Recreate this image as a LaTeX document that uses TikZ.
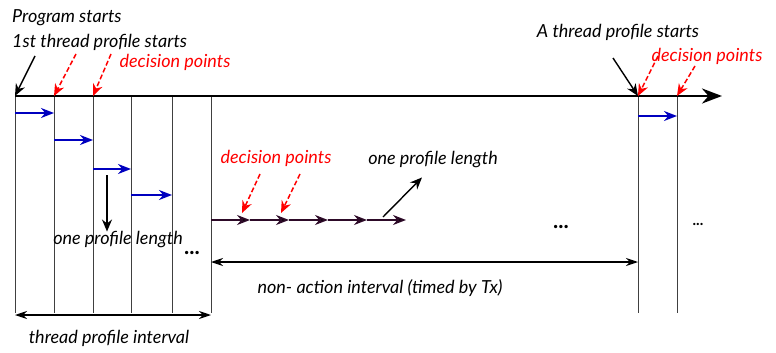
\documentclass[tikz,border=0pt]{standalone}
\usepackage{fontspec}
\setmainfont{Lato}
\usetikzlibrary{arrows.meta,positioning,calc}
\definecolor{darkplum}{RGB}{45,10,40}

\begin{document}
\begin{tikzpicture}[x=1pt, y=-1pt,
  lbl/.style={font=\itshape\fontsize{18}{20}\selectfont, inner sep=0pt},
  redlbl/.style={lbl, text=red},
  tick/.style={draw=black!75, line width=0.9pt},
  profarrow/.style={-{Stealth[length=13pt,width=10pt]}, blue!75!black, line width=1.8pt},
  decarrow/.style={-{Stealth[length=12pt,width=10pt]}, red, dash pattern=on 5pt off 2.5pt, line width=1.5pt},
  ptr/.style={-{Stealth[length=12pt,width=10pt]}, line width=1.4pt},
  span/.style={{Stealth[length=12pt,width=8pt]}-{Stealth[length=12pt,width=8pt]}, line width=1.2pt},
  >=Stealth
]
\useasboundingbox (0,0) rectangle (776,353);

% time axis and slot borders
\foreach \n/\x in {0/15, 1/54, 2/93, 3/131, 4/172, 5/211, 6/638, 7/677} {
  \coordinate (T\n) at (\x,96);
  \coordinate (B\n) at (\x,313);
  \draw[tick] (T\n) -- (B\n);
}
\coordinate (axisend) at (722,96);
\draw[line width=2.8pt, -{Stealth[length=20pt,width=15pt]}] (T0) -- (axisend);

% profiles of the threads
\foreach \a/\b/\y in {0/1/113, 1/2/140, 2/3/169, 3/4/195, 6/7/116} {
  \draw[profarrow] ($(T\a)+(0,\y-96)$) -- ($(T\b)+(0,\y-96)$);
}

% decision points on one thread
\foreach \n/\x in {0/211, 1/250, 2/289, 3/328, 4/367, 5/406} {
  \coordinate (D\n) at (\x,220);
}
\foreach \a/\b in {0/1, 1/2, 2/3, 3/4, 4/5} {
  \draw[darkplum, line width=1.6pt, -{Stealth[length=13pt,width=10pt,fill=black]}] (D\a) -- (D\b);
}

% top labels
\node[lbl, anchor=west] (prog) at (12,18) {Program starts};
\node[lbl, anchor=west] (first) at (12,42) {1st thread profile starts};
\node[redlbl] (dec1) at (175,62) {decision points};
\node[lbl] (athread) at (618,32) {A thread profile starts};
\node[redlbl] (dec2) at (707,56) {decision points};

\coordinate (p1) at (35,56);
\draw[ptr] (p1) -- (T0);
\coordinate (r1) at (76,54);
\coordinate (r2) at (111,54);
\draw[decarrow] (r1) -- (T1);
\draw[decarrow] (r2) -- (T2);

\coordinate (p2) at (613,58);
\draw[ptr] (p2) -- (T6);
\coordinate (r3) at (658,56);
\coordinate (r4) at (695,66);
\draw[decarrow] (r3) -- (T6);
\draw[decarrow] (r4) -- (T7);

% middle labels
\node[redlbl] (dec3) at (276,158) {decision points};
\coordinate (r5) at (260,174);
\coordinate (r6) at (300,174);
\draw[decarrow] (r5) -- ($(D1)+(-8,-7)$);
\draw[decarrow] (r6) -- ($(D2)+(-8,-7)$);

\node[lbl] (len1) at (433,160) {one profile length};
\coordinate (l1) at (383,217);
\draw[ptr] (l1) -- ([xshift=-11pt,yshift=-9pt]len1.south);

\node[lbl] (len2) at (118,240) {one profile length};
\coordinate (l2) at (107,175);
\draw[ptr] (l2) -- (len2.north -| l2);

% gaps
\node[font=\bfseries\fontsize{22}{24}\selectfont] (dots1) at (192,253) {...};
\node[font=\bfseries\fontsize{22}{24}\selectfont] (dots2) at (561,227) {...};
\node[font=\bfseries\fontsize{15}{17}\selectfont] (dots3) at (698,224) {...};

% intervals
\coordinate (n0) at (211,262);
\coordinate (n1) at (638,262);
\draw[span] (n0) -- (n1);
\node[lbl] (nonact) at (380,288) {non- action interval (timed by Tx)};

\coordinate (i0) at (15,315);
\coordinate (i1) at (211,315);
\draw[span] (i0) -- (i1);
\node[lbl] (tpint) at (109,338) {thread profile interval};
\end{tikzpicture}
\end{document}
